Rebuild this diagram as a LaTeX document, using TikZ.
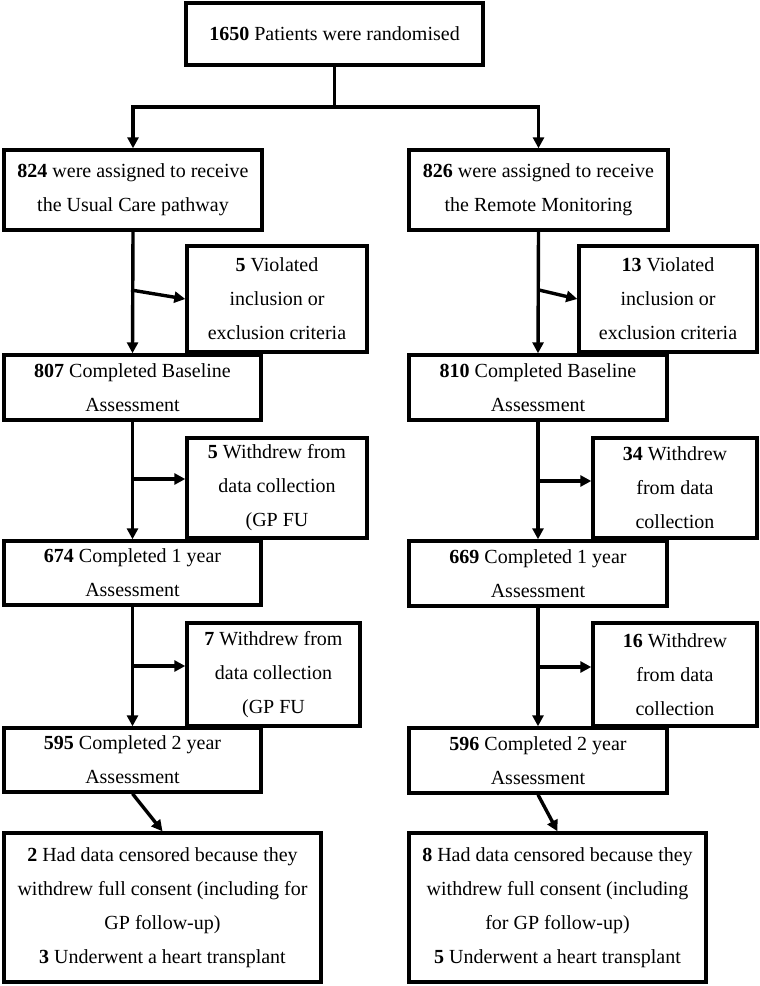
\documentclass[tikz,border=0pt]{standalone}
\usepackage{fontspec}
\setmainfont{Liberation Serif}
\usetikzlibrary{arrows.meta}
\begin{document}
\begin{tikzpicture}[x=1pt,y=-1pt,
  box/.style={draw,line width=3.4pt,align=center,inner sep=0pt,
    font=\fontsize{20}{34}\selectfont},
  conn/.style={line width=3.4pt},
  arr/.style={line width=3.4pt,-{Triangle[length=11pt,width=11pt]}}]
\useasboundingbox (0,0) rectangle (760,986);
\newcommand{\bx}[6]{\node[box,minimum width=#4-#2,minimum height=#5-#3] (#1) at ({(#2+#4)/2},{(#3+#5)/2}) {#6};}
\bx{top}{186}{3}{483}{65}{\textbf{1650} Patients were randomised}
\bx{l1}{4}{150}{262}{230}{\textbf{824} were assigned to receive\\the Usual Care pathway}
\bx{r1}{409}{150}{668}{230}{\textbf{826} were assigned to receive\\the Remote Monitoring}
\bx{le1}{187}{246}{367}{352}{\textbf{5} Violated\\inclusion or\\exclusion criteria}
\bx{re1}{579}{246}{757}{352}{\textbf{13} Violated\\inclusion or\\exclusion criteria}
\bx{l2}{4}{355}{261}{420}{\textbf{807} Completed Baseline\\Assessment}
\bx{r2}{409}{355}{667}{420}{\textbf{810} Completed Baseline\\Assessment}
\bx{lw1}{187}{438}{367}{538}{\textbf{5} Withdrew from\\data collection\\(GP FU}
\bx{rw1}{593}{438}{757}{538}{\textbf{34} Withdrew\\from data\\collection}
\bx{l3}{4}{541}{261}{605}{\textbf{674} Completed 1 year\\Assessment}
\bx{r3}{409}{541}{667}{606}{\textbf{669} Completed 1 year\\Assessment}
\bx{lw2}{187}{623}{360}{726}{\textbf{7} Withdrew from\\data collection\\(GP FU}
\bx{rw2}{593}{623}{757}{726}{\textbf{16} Withdrew\\from data\\collection}
\bx{l4}{4}{728}{261}{792}{\textbf{595} Completed 2 year\\Assessment}
\bx{r4}{409}{728}{667}{793}{\textbf{596} Completed 2 year\\Assessment}
\bx{lf}{4}{833}{321}{982}{\textbf{2} Had data censored because they\\withdrew full consent (including for\\GP follow-up)\\\textbf{3} Underwent a heart transplant}
\bx{rf}{409}{833}{706}{982}{\textbf{8} Had data censored because they\\withdrew full consent (including\\for GP follow-up)\\\textbf{5} Underwent a heart transplant}
% split
\coordinate (sp) at (334,107);
\draw[conn] (top.south) -- (top.south |- sp);
\draw[arr] (top.south |- sp) -| (l1.north);
\draw[arr] (top.south |- sp) -| (r1.north);
% left column
\draw[arr] (l1.south) -- (l2.north);
\coordinate (la) at (131,290);
\draw[arr] (la) -- (le1.west);
\draw[arr] (l2.south) -- (l3.north);
\coordinate (lb) at (131,479);
\draw[arr] (lb) -- (lb -| lw1.west);
\draw[arr] (l3.south) -- (l4.north);
\coordinate (lc) at (131,666);
\draw[arr] (lc) -- (lc -| lw2.west);
\draw[arr] (l4.south) -- (lf.north);
% right column
\draw[arr] (r1.south) -- (r2.north);
\coordinate (ra) at (539,290);
\draw[arr] (ra) -- (re1.west);
\draw[arr] (r2.south) -- (r3.north);
\coordinate (rb) at (539,481);
\draw[arr] (rb) -- (rb -| rw1.west);
\draw[arr] (r3.south) -- (r4.north);
\coordinate (rc) at (539,667);
\draw[arr] (rc) -- (rc -| rw2.west);
\draw[arr] (r4.south) -- (rf.north);
\end{tikzpicture}
\end{document}
